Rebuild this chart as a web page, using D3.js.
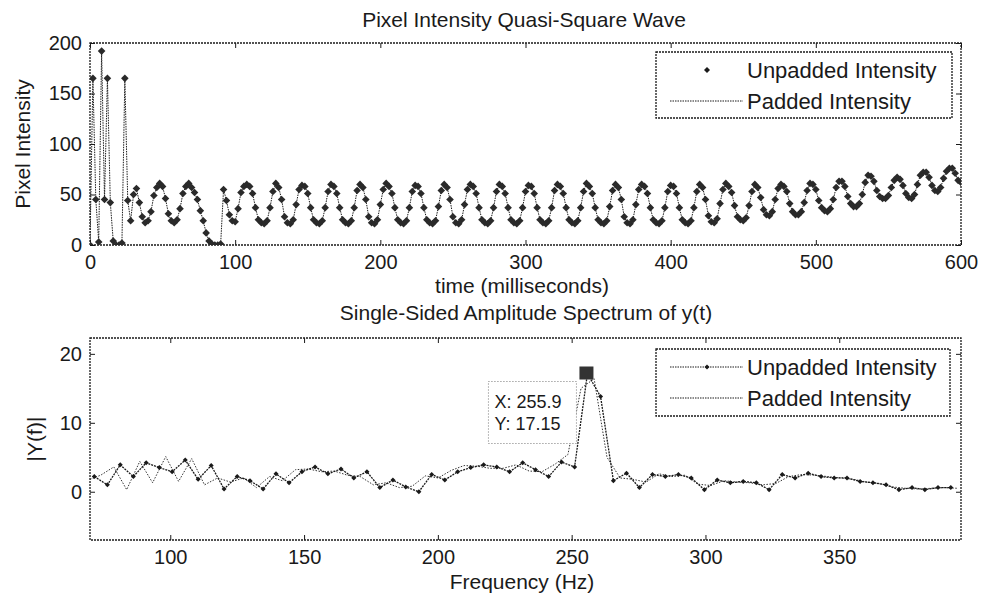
<!DOCTYPE html>
<html>
<head>
<meta charset="utf-8">
<script src="https://cdn.jsdelivr.net/npm/d3@7"></script>
<style>
  body { margin: 0; background: #fff; }
  svg { font-family: "Liberation Sans", Arial, sans-serif; }
</style>
</head>
<body>
<svg id="chart" width="982" height="599"></svg>
<script>
// ---- top panel: pixel intensity, one sample every 2 ms ----
const sampleStepMs = 2;
const intensity = [
  0, 165, 45, 3, 192, 45, 165, 42, 4, 0,
  0, 2, 165, 44, 24, 50, 56, 42, 28, 22,
  24, 33, 49, 57, 61, 58, 46, 31, 24, 22,
  25, 36, 51, 58, 61, 57, 52, 45, 34, 24,
  12, 4, 1, 0, 0, 1, 55, 44, 30, 24,
  23, 36, 52, 58, 60, 58, 51, 37, 25, 22,
  21, 24, 37, 53, 61, 57, 45, 28, 22, 21,
  25, 40, 55, 59, 58, 51, 37, 25, 22, 21,
  24, 37, 53, 60, 58, 51, 37, 25, 22, 21,
  24, 37, 54, 60, 57, 45, 28, 22, 21, 25,
  40, 55, 61, 58, 51, 37, 25, 22, 21, 24,
  37, 53, 59, 58, 51, 37, 25, 22, 21, 24,
  38, 54, 60, 57, 45, 28, 22, 21, 25, 40,
  55, 60, 58, 51, 37, 25, 22, 21, 24, 37,
  53, 60, 58, 51, 37, 25, 22, 21, 24, 37,
  53, 59, 58, 51, 37, 25, 22, 21, 24, 37,
  54, 60, 58, 51, 37, 25, 22, 21, 24, 37,
  53, 61, 58, 51, 37, 25, 22, 21, 24, 38,
  54, 60, 57, 45, 28, 22, 21, 25, 40, 55,
  60, 58, 51, 37, 25, 22, 21, 24, 37, 53,
  59, 58, 51, 37, 25, 22, 21, 24, 37, 53,
  60, 57, 45, 29, 23, 22, 26, 41, 55, 61,
  58, 52, 39, 28, 25, 24, 27, 39, 53, 60,
  57, 47, 35, 30, 29, 33, 45, 56, 60, 58,
  53, 41, 33, 30, 30, 33, 42, 54, 61, 60,
  55, 44, 37, 34, 33, 36, 45, 57, 63, 63,
  58, 48, 41, 38, 38, 41, 50, 62, 69, 68,
  63, 54, 48, 46, 46, 49, 57, 64, 67, 65,
  59, 51, 47, 46, 50, 60, 69, 72, 72, 67,
  59, 54, 53, 57, 66, 73, 76, 76, 71, 64,
  62
];
const timeTicks = [0, 100, 200, 300, 400, 500, 600];
const intensityTicks = [0, 50, 100, 150, 200];

// ---- bottom panel: single-sided amplitude spectrum ----
const unpaddedFreq = [
  71.6, 76.5, 81.3, 86.2, 91.0, 95.9, 100.7, 105.6, 110.4, 115.3,
  120.1, 125.0, 129.8, 134.7, 139.5, 144.4, 149.2, 154.1, 158.9, 163.8,
  168.6, 173.5, 178.3, 183.2, 188.0, 192.9, 197.7, 202.6, 207.4, 212.3,
  217.1, 222.0, 226.8, 231.7, 236.5, 241.4, 246.2, 251.1, 255.9, 260.8,
  265.6, 270.5, 275.3, 280.2, 285.0, 289.9, 294.7, 299.6, 304.4, 309.3,
  314.1, 319.0, 323.8, 328.7, 333.5, 338.4, 343.2, 348.1, 352.9, 357.8,
  362.6, 367.5, 372.3, 377.2, 382.0, 386.9, 391.7
];
const unpaddedAmp = [
  2.2, 1.0, 3.9, 2.2, 4.2, 3.5, 2.9, 4.6, 1.8, 3.8,
  0.4, 2.2, 1.6, 0.4, 2.6, 1.3, 2.9, 3.6, 2.6, 3.3,
  2.0, 2.9, 0.6, 1.7, 0.7, 0.0, 2.5, 1.7, 2.9, 3.5,
  3.9, 3.6, 2.9, 4.2, 3.2, 2.2, 4.3, 3.6, 17.15, 13.8,
  1.6, 2.7, 0.6, 2.5, 2.2, 2.5, 2.0, 0.3, 1.7, 1.3,
  1.5, 1.3, 0.3, 2.5, 2.0, 2.7, 2.2, 2.0, 2.0, 1.5,
  1.3, 1.0, 0.3, 0.6, 0.3, 0.6, 0.6
];
const paddedFreq = [
  70.0, 74.0, 78.9, 83.7, 88.6, 93.4, 98.3, 103.1, 108.0, 112.8,
  117.7, 122.5, 127.4, 132.2, 137.1, 141.9, 146.8, 151.6, 156.5, 161.3,
  166.2, 171.0, 175.9, 180.7, 185.6, 190.4, 195.3, 200.1, 205.0, 209.8,
  214.7, 219.5, 224.4, 229.2, 234.1, 238.9, 243.8, 248.6, 253.5, 258.4,
  263.2, 268.1, 272.9, 277.8, 282.6, 287.5, 292.3, 297.2, 302.0, 306.9,
  311.7, 316.6, 321.4, 326.3, 331.1, 336.0, 340.8, 345.7, 350.5, 355.4,
  360.2, 365.1, 369.9, 374.8, 379.6, 384.5, 389.3, 394.2
];
const paddedAmp = [
  1.8, 2.4, 3.6, 0.3, 4.4, 1.3, 5.1, 1.5, 4.8, 1.0,
  2.0, 1.4, 2.0, 0.6, 2.2, 1.6, 3.2, 3.3, 2.9, 3.0,
  2.4, 2.2, 1.0, 1.3, 0.6, 0.8, 2.3, 2.0, 3.1, 3.8,
  3.7, 3.4, 3.4, 3.9, 3.0, 2.9, 4.0, 5.4, 15.0, 16.4,
  5.0, 2.0, 1.8, 1.4, 2.6, 2.2, 2.4, 1.1, 0.9, 1.6,
  1.4, 1.3, 1.0, 1.2, 2.2, 2.5, 2.4, 2.2, 2.0, 1.8,
  1.4, 1.2, 0.7, 0.5, 0.4, 0.5, 0.6, 0.5
];
const freqTicks = [100, 150, 200, 250, 300, 350];
const ampTicks = [0, 10, 20];
const peakTip = { x: 255.9, y: 17.15 };

const legendLabels = ["Unpadded Intensity", "Padded Intensity"];

const svg = d3.select("#chart");
const left = 90, right = 961;
const ink = "#1a1a1a";

function diamond(r) {
  return `M0,${-r}L${r},0L0,${r}L${-r},0Z`;
}

function makePanel(id, top, bottom, xDomain, yDomain, xTicks, yTicks) {
  const x = d3.scaleLinear().domain(xDomain).range([left, right]);
  const y = d3.scaleLinear().domain(yDomain).range([bottom, top]);
  const g = svg.append("g").attr("id", id);

  g.append("clipPath").attr("id", id + "Clip")
    .append("rect")
    .attr("x", left).attr("y", top)
    .attr("width", right - left).attr("height", bottom - top);

  const styleAxis = (a) => {
    a.select(".domain").remove();
    a.selectAll("line").attr("stroke", ink);
    a.selectAll("text").attr("fill", ink).attr("font-size", 20)
      .attr("font-family", '"Liberation Sans", Arial, sans-serif');
  };

  g.append("g").attr("transform", `translate(0,${bottom})`)
    .call(d3.axisBottom(x).tickValues(xTicks).tickSizeInner(-5).tickSizeOuter(0).tickPadding(10))
    .call(styleAxis);
  g.append("g").attr("transform", `translate(0,${top})`)
    .call(d3.axisTop(x).tickValues(xTicks).tickSizeInner(-5).tickSizeOuter(0).tickFormat(""))
    .call(styleAxis);
  g.append("g").attr("transform", `translate(${left},0)`)
    .call(d3.axisLeft(y).tickValues(yTicks).tickSizeInner(-5).tickSizeOuter(0).tickPadding(8))
    .call(styleAxis);
  g.append("g").attr("transform", `translate(${right},0)`)
    .call(d3.axisRight(y).tickValues(yTicks).tickSizeInner(-5).tickSizeOuter(0).tickFormat(""))
    .call(styleAxis);

  g.append("rect")
    .attr("x", left).attr("y", top)
    .attr("width", right - left).attr("height", bottom - top)
    .attr("fill", "none").attr("stroke", ink).attr("stroke-width", 1.3)
    .attr("stroke-dasharray", "2,1");

  const plot = g.append("g").attr("clip-path", `url(#${id}Clip)`);
  return { x, y, g, plot, top, bottom };
}

function addText(txt, x, y, size, rotate) {
  const t = svg.append("text")
    .attr("text-anchor", "middle")
    .attr("font-size", size)
    .attr("fill", ink)
    .text(txt);
  if (rotate) t.attr("transform", `translate(${x},${y}) rotate(-90)`);
  else t.attr("x", x).attr("y", y);
  return t;
}

function legend(x0, y0, w, h, withLineOnFirst, markerR) {
  const g = svg.append("g");
  g.append("rect").attr("x", x0).attr("y", y0).attr("width", w).attr("height", h)
    .attr("fill", "#fff").attr("stroke", ink).attr("stroke-width", 1.3)
    .attr("stroke-dasharray", "2,1");
  const rows = [y0 + 18, y0 + 49];
  legendLabels.forEach((lab, i) => {
    const cy = rows[i];
    if (i === 1 || withLineOnFirst) {
      g.append("line").attr("x1", x0 + 14).attr("x2", x0 + 87)
        .attr("y1", cy).attr("y2", cy)
        .attr("stroke", ink).attr("stroke-width", 1)
        .attr("stroke-dasharray", "1.5,1");
    }
    if (i === 0) {
      g.append("path").attr("d", diamond(markerR))
        .attr("transform", `translate(${x0 + 51},${cy})`).attr("fill", ink);
    }
    g.append("text").attr("x", x0 + 91).attr("y", cy + 8)
      .attr("font-size", 22).attr("fill", ink).text(lab);
  });
}

// ---------------- top panel ----------------
const p1 = makePanel("top", 43, 245, [0, 600], [0, 200], timeTicks, intensityTicks);
const series = intensity.map((v, i) => ({ t: i * sampleStepMs, v }));

p1.plot.append("path")
  .datum(series)
  .attr("fill", "none").attr("stroke", ink).attr("stroke-width", 1)
  .attr("stroke-dasharray", "1.5,1")
  .attr("d", d3.line().x(d => p1.x(d.t)).y(d => p1.y(d.v)));

p1.plot.selectAll("path.mk")
  .data(series)
  .join("path")
  .attr("class", "mk")
  .attr("d", diamond(3.8))
  .attr("transform", d => `translate(${p1.x(d.t)},${p1.y(d.v)})`)
  .attr("fill", "#2a2a2a");

addText("Pixel Intensity Quasi-Square Wave", 524, 27, 21);
addText("time (milliseconds)", 522, 293, 21);
addText("Pixel Intensity", 30, 144, 21, true);
legend(656, 52, 296, 66, false, 3);

// ---------------- bottom panel ----------------
const p2 = makePanel("bot", 338, 540, [70, 395.5], [-7, 22.3], freqTicks, ampTicks);
const unp = unpaddedFreq.map((f, i) => ({ f, a: unpaddedAmp[i] }));
const pad = paddedFreq.map((f, i) => ({ f, a: paddedAmp[i] }));
const specLine = d3.line().x(d => p2.x(d.f)).y(d => p2.y(d.a));

p2.plot.append("path").datum(pad)
  .attr("fill", "none").attr("stroke", "#333").attr("stroke-width", 1)
  .attr("stroke-dasharray", "1.5,1.5")
  .attr("d", specLine);

p2.plot.append("path").datum(unp)
  .attr("fill", "none").attr("stroke", ink).attr("stroke-width", 1.3)
  .attr("stroke-dasharray", "2,1")
  .attr("d", specLine);

p2.plot.selectAll("path.mk2")
  .data(unp)
  .join("path")
  .attr("class", "mk2")
  .attr("d", diamond(2.5))
  .attr("transform", d => `translate(${p2.x(d.f)},${p2.y(d.a)})`)
  .attr("fill", ink);

// data tip at the spectral peak
const px = p2.x(peakTip.x), py = p2.y(peakTip.y);
p2.g.append("rect")
  .attr("x", px - 8).attr("y", py - 7).attr("width", 14).attr("height", 13)
  .attr("fill", "#333");
const tip = p2.g.append("g").attr("transform", `translate(${px - 99},${py + 8})`);
tip.append("rect").attr("width", 88).attr("height", 62)
  .attr("fill", "#fff").attr("stroke", "#777").attr("stroke-width", 1)
  .attr("stroke-dasharray", "1,2");
tip.append("text").attr("x", 6).attr("y", 26).attr("font-size", 18).attr("fill", ink)
  .text("X: " + peakTip.x);
tip.append("text").attr("x", 6).attr("y", 48).attr("font-size", 18).attr("fill", ink)
  .text("Y: " + peakTip.y);

addText("Single-Sided Amplitude Spectrum of y(t)", 526, 320, 21);
addText("Frequency (Hz)", 522, 589, 21);
addText("|Y(f)|", 42, 439, 21, true);
legend(656, 349, 294, 67, true, 2.5);
</script>
</body>
</html>
